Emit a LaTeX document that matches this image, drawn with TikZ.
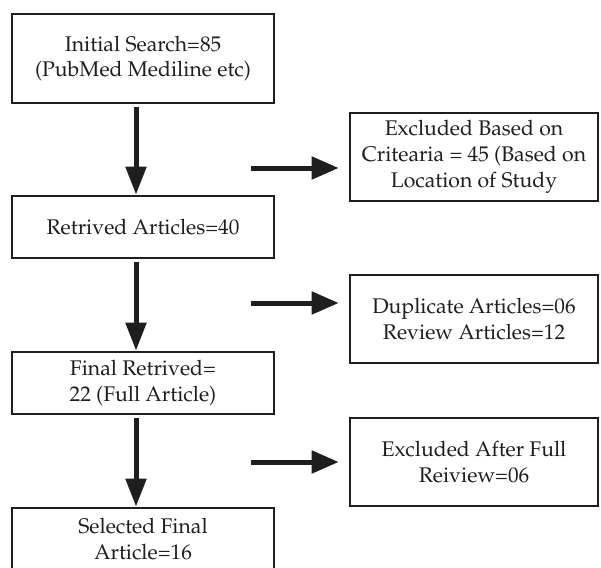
\documentclass[tikz,border=0pt]{standalone}
\usepackage[T1]{fontenc}
\usepackage{mathpazo}
\usetikzlibrary{arrows.meta}
\definecolor{ink}{HTML}{1E1E1E}
\tikzset{
  box/.style={draw=ink, line width=2.6pt, fill=white, align=center, text=ink,
    inner sep=0pt, font=\fontsize{21.2}{25.8}\selectfont},
  lbox/.style={box, minimum width=262pt},
  rbox/.style={box, minimum width=248pt, minimum height=88pt},
  flow/.style={draw=ink, line width=5pt, -{Triangle[length=28pt,width=20pt]}},
  side/.style={draw=ink, line width=5pt, -{Triangle[length=27pt,width=22pt]}}
}
\begin{document}
\begin{tikzpicture}[x=1pt,y=-1pt]
\useasboundingbox (0,0) rectangle (601,567);
\node[lbox, minimum height=89pt] (b1) at (143,58.5) {Initial Search=85\\(PubMed Mediline etc)};
\node[lbox, minimum height=62pt] (b2) at (143,227) {Retrived Articles=40};
\node[lbox, minimum height=62pt] (b3) at (143,383) {Final Retrived=\\22 (Full Article)};
\node[lbox, minimum height=62pt] (b4) at (143,539) {Selected Final\\Article=16};
\node[rbox] (r1) at (474,157) {Excluded Based on\\Critearia = 45 (Based on\\Location of Study};
\node[rbox] (r2) at (474,319) {Duplicate Articles=06\\Review Articles=12};
\node[rbox] (r3) at (474,462) {Excluded After Full\\Reiview=06};
\coordinate (s1) at (251,168);
\coordinate (s2) at (251,303);
\coordinate (s3) at (251,462);
\draw[flow] ([yshift=-3pt]b1.south -| 136,0) -- (b2.north -| 136,0);
\draw[flow] ([yshift=-3pt]b2.south -| 136,0) -- (b3.north -| 136,0);
\draw[flow] ([yshift=-3pt]b3.south -| 136,0) -- (b4.north -| 136,0);
\draw[side, shorten >=10pt] (s1) -- (s1 -| r1.west);
\draw[side, shorten >=10pt] (s2) -- (s2 -| r2.west);
\draw[side, shorten >=10pt] (s3) -- (s3 -| r3.west);
\end{tikzpicture}
\end{document}
